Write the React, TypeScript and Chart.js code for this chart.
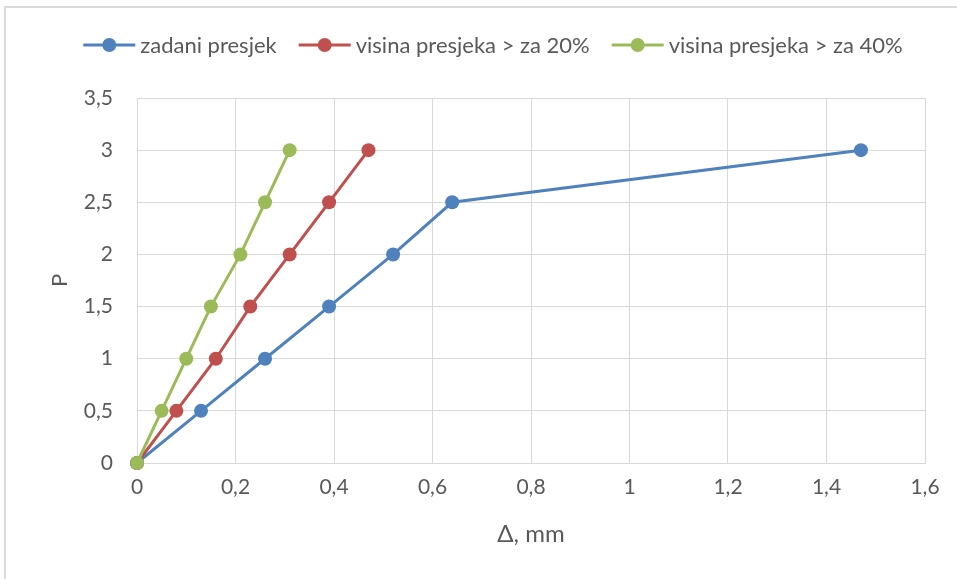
import React, { useEffect, useRef } from 'react';
import { Chart, registerables } from 'chart.js';

Chart.register(...registerables);

// ---- data ----
const seriesNames = ['zadani presjek', 'visina presjeka > za 20%', 'visina presjeka > za 40%'];
const loads = [0, 0.5, 1, 1.5, 2, 2.5, 3];
const deflBase = [0, 0.13, 0.26, 0.39, 0.52, 0.64, 1.47];
const defl20 = [0, 0.08, 0.16, 0.23, 0.31, 0.39, 0.47];
const defl40 = [0, 0.05, 0.1, 0.15, 0.21, 0.26, 0.31];
const seriesColors = ['#4F81BD', '#C0504D', '#9BBB59'];
const xMin = 0, xMax = 1.6, xStep = 0.2;
const yMin = 0, yMax = 3.5, yStep = 0.5;
const xTitle = 'Δ, mm';
const yTitle = 'P';

const FONT = 'Lato';
const TEXT = '#595959';
const GRID = '#d9d9d9';

const fmt = (v: number) => String(Math.round(v * 10) / 10).replace('.', ',');

const legendPlugin = {
  id: 'excelLegend',
  afterDraw(chart: any) {
    const ctx = chart.ctx as CanvasRenderingContext2D;
    ctx.save();
    ctx.font = `22px ${FONT}`;
    const lineLen = 52, gapText = 5, gapItem = 22;
    const dss = chart.data.datasets;
    const widths = dss.map((ds: any) => lineLen + gapText + ctx.measureText(ds.label).width);
    const total = widths.reduce((a: number, b: number) => a + b, 0) + gapItem * (widths.length - 1);
    const centerX = 493;
    const y = 45;
    let x = centerX - total / 2;
    dss.forEach((ds: any, i: number) => {
      ctx.strokeStyle = ds.borderColor;
      ctx.lineWidth = 3;
      ctx.beginPath();
      ctx.moveTo(x, y);
      ctx.lineTo(x + lineLen, y);
      ctx.stroke();
      ctx.fillStyle = ds.backgroundColor;
      ctx.beginPath();
      ctx.arc(x + lineLen / 2, y, 7, 0, Math.PI * 2);
      ctx.fill();
      ctx.fillStyle = TEXT;
      ctx.textBaseline = 'middle';
      ctx.textAlign = 'left';
      ctx.fillText(ds.label, x + lineLen + gapText, y + 1);
      x += widths[i] + gapItem;
    });
    ctx.restore();
  },
};

export default function App() {
  const ref = useRef<HTMLCanvasElement | null>(null);

  useEffect(() => {
    if (!ref.current) return;
    const mk = (i: number, xs: number[]) => ({
      label: seriesNames[i],
      data: xs.map((x, k) => ({ x, y: loads[k] })),
      borderColor: seriesColors[i],
      backgroundColor: seriesColors[i],
      borderWidth: 3,
      pointRadius: 7,
      pointHoverRadius: 7,
      pointBorderWidth: 0,
      showLine: true,
      clip: false as const,
      order: 3 - i,
    });
    const chart = new Chart(ref.current, {
      type: 'scatter',
      data: {
        datasets: [mk(0, deflBase), mk(1, defl20), mk(2, defl40)],
      },
      options: {
        responsive: false,
        animation: false,
        devicePixelRatio: 1,
        layout: { padding: { top: 98, right: 32, left: 0, bottom: 0 } },
        plugins: {
          legend: { display: false },
          tooltip: { enabled: false },
        },
        scales: {
          x: {
            type: 'linear',
            min: xMin,
            max: xMax,
            ticks: {
              stepSize: xStep,
              padding: 12,
              color: TEXT,
              font: { family: FONT, size: 21 },
              callback: (v: any) => fmt(Number(v)),
            },
            grid: { color: GRID, lineWidth: 1, drawTicks: false },
            border: { color: GRID, width: 1 },
            title: {
              display: true,
              text: xTitle,
              color: TEXT,
              font: { family: FONT, size: 24 },
              padding: { top: 0, bottom: 30 },
            },
            afterFit: (s: any) => { s.height = 116; },
          },
          y: {
            type: 'linear',
            min: yMin,
            max: yMax,
            ticks: {
              stepSize: yStep,
              padding: 24,
              color: TEXT,
              font: { family: FONT, size: 21 },
              callback: (v: any) => fmt(Number(v)),
            },
            grid: { color: GRID, lineWidth: 1, drawTicks: false },
            border: { color: GRID, width: 1 },
            title: {
              display: true,
              text: yTitle,
              color: TEXT,
              font: { family: FONT, size: 22 },
              padding: { top: 47, bottom: 0 },
            },
            afterFit: (s: any) => { s.width = 137; },
          },
        },
      },
      plugins: [legendPlugin],
    });
    return () => chart.destroy();
  }, []);

  return (
    <div style={{ position: 'absolute', left: 0, top: 0, width: 957, height: 579, overflow: 'hidden', background: '#fff' }}>
      <div style={{ position: 'absolute', left: 4, top: 6, width: 1100, height: 1100, border: '2px solid #d9d9d9' }} />
      <canvas ref={ref} width={957} height={579} style={{ position: 'absolute', left: 0, top: 0, width: 957, height: 579 }} />
    </div>
  );
}
